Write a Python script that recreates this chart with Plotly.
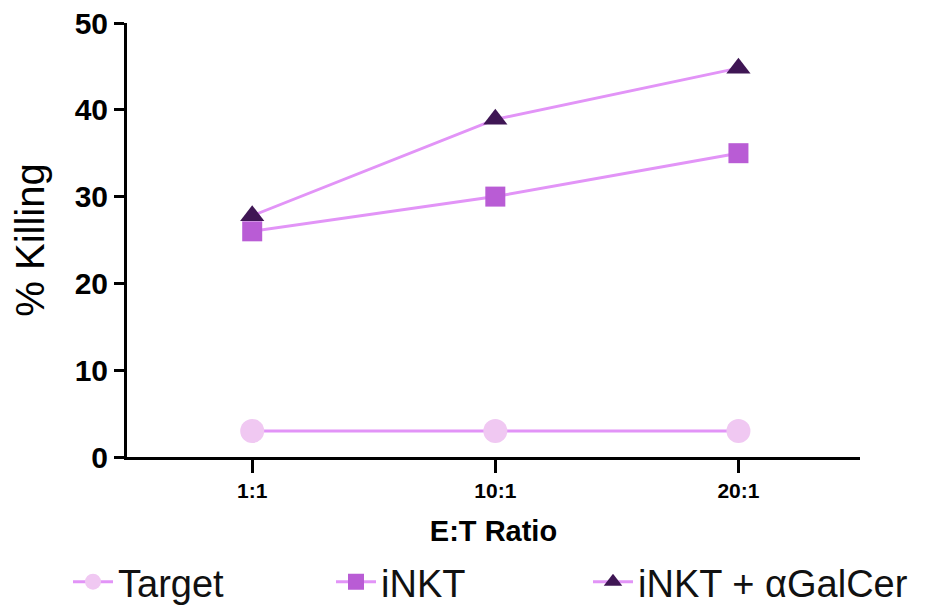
import plotly.graph_objects as go

# E:T ratios and % killing
ratios = ["1:1", "10:1", "20:1"]
target = [3, 3, 3]
inkt = [26, 30, 35]
inkt_galcer = [27.8, 38.9, 44.8]

line_color = "#e294f7"
font = "Liberation Sans, Arial, sans-serif"

x_pos = [0, 1, 2]

fig = go.Figure()
fig.add_trace(go.Scatter(x=x_pos, y=target, name="Target", mode="lines+markers",
                         line=dict(color=line_color, width=3),
                         marker=dict(symbol="circle", size=24, color="#f0c8f2"),
                         legend="legend"))
fig.add_trace(go.Scatter(x=x_pos, y=inkt, name="iNKT", mode="lines+markers",
                         line=dict(color=line_color, width=3),
                         marker=dict(symbol="square", size=20, color="#b95cd5"),
                         legend="legend2"))
fig.add_trace(go.Scatter(x=x_pos, y=inkt_galcer, name="iNKT + αGalCer", mode="lines+markers",
                         line=dict(color=line_color, width=3),
                         marker=dict(symbol="triangle-up", size=21, color="#3f1654"),
                         legend="legend3"))

legend_style = dict(orientation="h", yanchor="middle", y=-0.288, xanchor="left",
                    font=dict(family=font, size=38, color="#111"),
                    bgcolor="rgba(0,0,0,0)", itemwidth=40)


def px_to_paper(px):
    return (px - 127) / 733


# page has an 8px body margin, so margins are trimmed to compensate
fig.update_layout(
    width=927, height=606,
    margin=dict(l=119, r=75, t=15, b=157, autoexpand=False),
    plot_bgcolor="white", paper_bgcolor="white",
    showlegend=True,
    legend=dict(legend_style, x=px_to_paper(68)),
    legend2=dict(legend_style, x=px_to_paper(331)),
    legend3=dict(legend_style, x=px_to_paper(588)),
)

fig.update_xaxes(
    range=[-0.515, 2.5], tickvals=x_pos, ticktext=ratios, automargin=False,
    showline=True, linecolor="black", linewidth=3, showgrid=False, zeroline=False,
    ticks="outside", ticklen=13, tickwidth=3, tickcolor="black",
    tickfont=dict(family=font, size=21, color="black", weight="bold"),
    title=dict(text="<b>E:T Ratio</b>", font=dict(family=font, size=29, color="black"), standoff=20),
)
fig.update_yaxes(
    range=[0, 50], tickvals=[0, 10, 20, 30, 40, 50], automargin=False,
    ticklabeloverflow="allow",
    showline=True, linecolor="black", linewidth=3, showgrid=False, zeroline=False,
    ticks="outside", ticklen=10, tickwidth=3, tickcolor="black",
    tickfont=dict(family=font, size=30, color="black", weight="bold"),
    title=dict(text="% Killing", font=dict(family=font, size=40, color="black"), standoff=18),
)

fig.write_html("out.html")
